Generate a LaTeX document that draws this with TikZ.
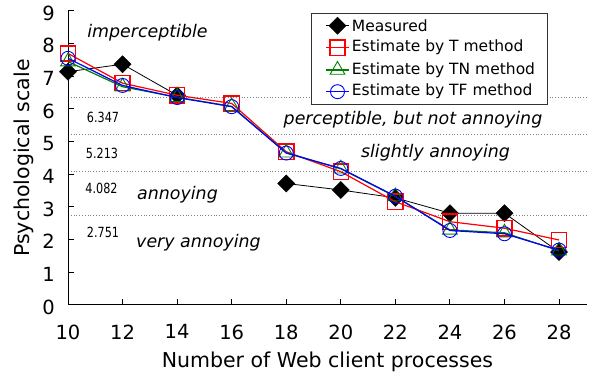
\documentclass[tikz,border=0pt]{standalone}
\usepackage{fontspec}
\setmainfont{DejaVu Sans}
\definecolor{mgreen}{RGB}{0,128,0}
\definecolor{mred}{RGB}{255,0,0}
\definecolor{mblue}{RGB}{0,0,255}
\tikzset{
  axisline/.style={line width=1pt,black},
  levelline/.style={gray,dotted,line width=0.8pt},
  ticklab/.style={font=\fontsize{19.5}{22}\selectfont,inner sep=0pt},
  axislab/.style={font=\fontsize{20.5}{24}\selectfont,inner sep=0pt},
  zonelab/.style={font=\fontsize{17.4}{21}\selectfont\itshape,inner sep=0pt},
  numlab/.style={font=\fontsize{14}{16}\selectfont,inner sep=0pt},
  leglab/.style={font=\fontsize{15.5}{18}\selectfont,inner sep=0pt,anchor=west},
  mline/.style={black,line width=0.8pt},
  tline/.style={mred,line width=1.2pt},
  tnline/.style={mgreen,line width=1.2pt},
  tfline/.style={mblue,line width=1.2pt},
  mdia/.pic={\filldraw[black,line width=0.5pt] (0,8.5pt) -- (8.5pt,0) -- (0,-8.5pt) -- (-8.5pt,0) -- cycle;},
  msq/.pic={\draw[draw=mred,line width=1.4pt,line join=miter] (-7.6pt,-7.6pt) -- (7.6pt,-7.6pt) -- (7.6pt,7.6pt) -- (-7.6pt,7.6pt) -- cycle;},
  mtri/.pic={\draw[draw=mgreen,line width=0.9pt] (0,8.5pt) -- (-7.36pt,-4.25pt) -- (7.36pt,-4.25pt) -- cycle;},
  mcirc/.pic={\draw[draw=mblue,line width=0.9pt] (0,0) circle[radius=7pt];},
}
\begin{document}
\begin{tikzpicture}[x=1pt,y=1pt]
\useasboundingbox (0,0) rectangle (592,379);
\begin{scope}[shift={(-204.8pt,74pt)},x=27.28pt,y=32.67pt]
  % level lines
  \foreach \v in {6.347,5.213,4.082,2.751}
    \draw[levelline] (10,\v) -- (29.05,\v);
  % axes
  \coordinate (o) at (10,0);
  \coordinate (ytop) at (10,9);
  \coordinate (xend) at (29.02,0);
  \draw[axisline] (ytop) -- (o) -- (xend);
  \foreach \y in {0,...,9} {
    \draw[axisline] (10,\y) -- ++(6pt,0);
    \node[ticklab,anchor=east] (yl\y) at ([xshift=-13pt,yshift=-2pt]10,\y) {\y};
  }
  \foreach \x in {10,12,...,28} {
    \draw[axisline] (\x,0) -- ++(0,6pt);
    \node[ticklab,anchor=north] (xl\x) at ([yshift=-19.5pt]\x,0) {\x};
  }
  % measured
  \draw[mline] (10,7.14) -- (12,7.37) -- (14,6.42);
  \draw[mline] (18,3.72) -- (20,3.52) -- (22,3.28) -- (24,2.81) -- (26,2.81) -- (28,1.62);
  \foreach \p in {(10,7.14),(12,7.37),(14,6.42),(18,3.72),(20,3.52),(22,3.28),(24,2.81),(26,2.81),(28,1.62)}
    \pic at \p {mdia};
  % T method
  \draw[tline] (10,7.70) -- (12,6.79) -- (14,6.42) -- (16,6.17) -- (18,4.69) -- (20,4.08) -- (22,3.16) -- (24,2.55) -- (26,2.35) -- (28,1.99);
  \foreach \p in {(10,7.70),(12,6.79),(14,6.42),(16,6.17),(18,4.69),(20,4.08),(22,3.16),(24,2.55),(26,2.35),(28,1.99)}
    \pic at \p {msq};
  % TN method
  \draw[tnline] (10,7.45) -- (12,6.68) -- (14,6.36) -- (16,6.08) -- (18,4.66) -- (20,4.17) -- (22,3.32) -- (24,2.30) -- (26,2.21) -- (28,1.66);
  \foreach \p in {(10,7.45),(12,6.68),(14,6.36),(16,6.08),(18,4.66),(20,4.17),(22,3.32),(24,2.30),(26,2.21),(28,1.66)}
    \pic at \p {mtri};
  % TF method
  \draw[tfline] (10,7.55) -- (12,6.72) -- (14,6.35) -- (16,6.07) -- (18,4.65) -- (20,4.18) -- (22,3.33) -- (24,2.28) -- (26,2.18) -- (28,1.68);
  \foreach \p in {(10,7.55),(12,6.72),(14,6.35),(16,6.07),(18,4.65),(20,4.18),(22,3.33),(24,2.28),(26,2.18),(28,1.68)}
    \pic at \p {mcirc};
\end{scope}
% axis titles
\node[axislab] (xtitle) at (327.4,17.3) {Number of Web client processes};
\node[axislab,rotate=90] (ytitle) at (24,221) {Psychological scale};
% zone labels
\node[zonelab] (z1) at (147.5,346) {imperceptible};
\node[zonelab] (z2) at (413,259) {perceptible, but not annoying};
\node[zonelab] (z3) at (435.5,226) {slightly annoying};
\node[zonelab] (z4) at (177.5,184) {annoying};
\node[zonelab] (z5) at (198.5,136) {very annoying};
% threshold numbers
\node[numlab] (n1) at (103,262) {\scalebox{0.8}[1]{6.347}};
\node[numlab] (n2) at (102,226) {\scalebox{0.8}[1]{5.213}};
\node[numlab] (n3) at (101.5,191) {\scalebox{0.8}[1]{4.082}};
\node[numlab] (n4) at (103,147) {\scalebox{0.8}[1]{2.751}};
% legend
\draw[line width=0.9pt,black!80,fill=white] (311.7,274.7) rectangle (547.7,365.7);
\coordinate (la1) at (326,353.3); \coordinate (lb1) at (349,353.3);
\coordinate (la2) at (326,331.3); \coordinate (lb2) at (349,331.3);
\coordinate (la3) at (326,309.0); \coordinate (lb3) at (349,309.0);
\coordinate (la4) at (326,287.3); \coordinate (lb4) at (349,287.3);
\draw[mline] (la1) -- (lb1);
\pic at (337.5,353.3) {mdia};
\draw[tline] (la2) -- (lb2);
\pic at (337.5,331.3) {msq};
\draw[tnline] (la3) -- (lb3);
\pic at (337.5,309.0) {mtri};
\draw[tfline] (la4) -- (lb4);
\pic at (337.5,287.3) {mcirc};
\node[leglab] (l1) at (351.7,353.3) {Measured};
\node[leglab] (l2) at (351.7,331.3) {Estimate by T method};
\node[leglab] (l3) at (351.7,309.0) {Estimate by TN method};
\node[leglab] (l4) at (351.7,287.3) {Estimate by TF method};
\end{tikzpicture}
\end{document}
